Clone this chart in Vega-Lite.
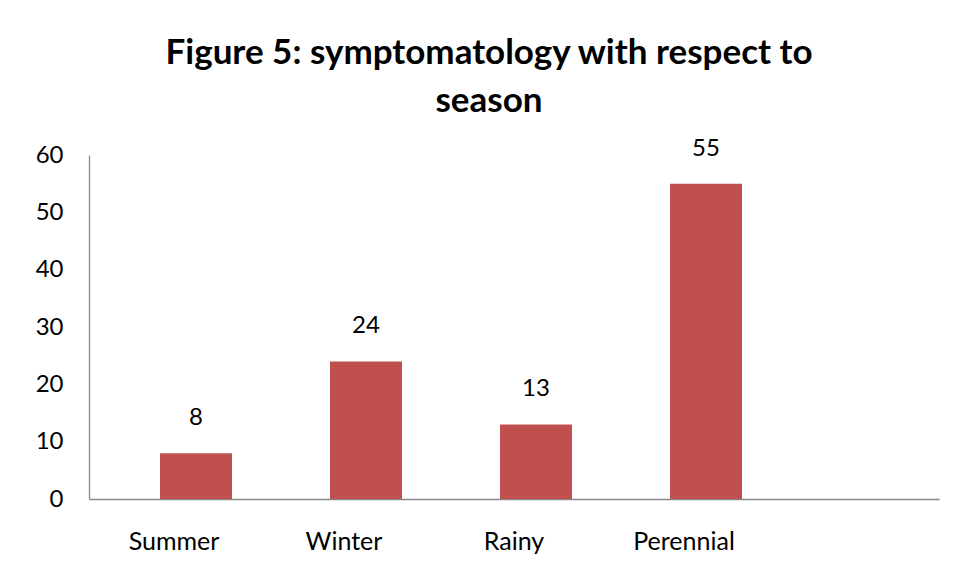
{
  "$schema": "https://vega.github.io/schema/vega-lite/v6.json",
  "autosize": "none",
  "width": 850,
  "height": 344,
  "padding": {"left": 89, "top": 155, "right": 17, "bottom": 81},
  "background": "white",
  "config": {
    "view": {"stroke": null},
    "font": "Lato"
  },
  "title": {
    "text": ["Figure 5: symptomatology with respect to", "season"],
    "font": "Lato",
    "fontSize": 35,
    "fontWeight": "bold",
    "color": "#000000",
    "lineHeight": 48,
    "anchor": "middle",
    "dx": -25,
    "offset": 18
  },
  "data": {
    "values": [
      {"season": "Summer", "count": 8},
      {"season": "Winter", "count": 24},
      {"season": "Rainy", "count": 13},
      {"season": "Perennial", "count": 55}
    ]
  },
  "encoding": {
    "x": {
      "field": "season",
      "type": "nominal",
      "sort": null,
      "scale": {"domain": ["Summer", "Winter", "Rainy", "Perennial", " "], "paddingInner": 0, "paddingOuter": 0},
      "axis": {
        "title": null,
        "labelAngle": 0,
        "ticks": false,
        "tickSize": 0,
        "labelFont": "Lato",
        "labelFontSize": 25,
        "labelColor": "#000000",
        "labelBaseline": "alphabetic",
        "labelPadding": 50,
        "domainColor": "#888888",
        "domainWidth": 1.3,
        "grid": false
      }
    },
    "y": {
      "field": "count",
      "type": "quantitative",
      "scale": {"domain": [0, 60], "nice": false},
      "axis": {
        "title": null,
        "values": [0, 10, 20, 30, 40, 50, 60],
        "ticks": false,
        "tickSize": 0,
        "labelFont": "Lato",
        "labelFontSize": 24,
        "labelColor": "#000000",
        "labelPadding": 26,
        "domainColor": "#888888",
        "domainWidth": 1.3,
        "grid": false
      }
    }
  },
  "layer": [
    {
      "mark": {"type": "bar", "width": 72, "xOffset": 22, "color": "#C0504D"}
    },
    {
      "mark": {"type": "text", "xOffset": 22, "dy": -28, "baseline": "alphabetic", "font": "Lato", "fontSize": 24, "color": "#000000"},
      "encoding": {"text": {"field": "count", "type": "quantitative"}}
    }
  ]
}
